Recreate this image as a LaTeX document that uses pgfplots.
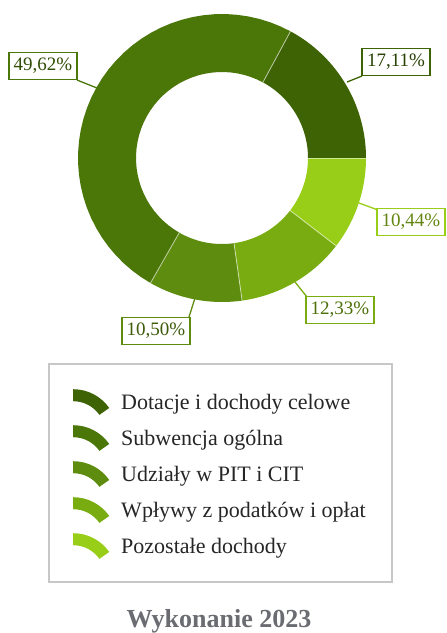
\documentclass[border=0pt]{standalone}
\usepackage{pgfplots}
\pgfplotsset{compat=1.18}
\usepackage{fontspec}
\setmainfont{Liberation Serif}
\definecolor{cA}{HTML}{3E6304}
\definecolor{cB}{HTML}{4B7608}
\definecolor{cC}{HTML}{5E8C0E}
\definecolor{cD}{HTML}{78AC10}
\definecolor{cE}{HTML}{98CD18}
\definecolor{titlegray}{HTML}{6A6C72}
% donut slice: start percent, end percent, colour
\newcommand{\slice}[3]{\addplot[fill=#3, draw=none, samples at={0,...,81}, variable=\n]
 ({222+((\n<=40)?144:86)*cos(3.6*((\n<=40)?(#1+(#2-#1)*\n/40):(#2-(#2-#1)*(\n-41)/40)))},
  {158-((\n<=40)?144:86)*sin(3.6*((\n<=40)?(#1+(#2-#1)*\n/40):(#2-(#2-#1)*(\n-41)/40)))});}
\newcommand{\sep}[1]{\addplot[forget plot, white, opacity=0.55, line width=0.9pt, samples at={86,144}, variable=\q]
 ({222+\q*cos(3.6*#1)},{158-\q*sin(3.6*#1)});}
\begin{document}
\begin{tikzpicture}
\begin{axis}[
  name=main,
  scale only axis, width=447pt, height=633pt,
  xmin=0, xmax=447, ymin=0, ymax=633, y dir=reverse,
  hide axis, clip=false,
  legend cell align=left,
  legend style={at={(axis cs:73,389)}, anchor=north west, draw=none, fill=none,
    font=\fontsize{22}{26}\selectfont, text=black!85, row sep=-8pt, inner sep=0pt,
    /tikz/every odd column/.append style={column sep=10pt},
    nodes={inner ysep=0pt}},
  legend image code/.code={%
    \fill (0pt,-31pt) ++(90:44pt) arc[start angle=90,end angle=35,radius=44pt]
      -- ++(215:12pt) arc[start angle=35,end angle=90,radius=32pt] -- cycle;},
]
% cumulative percentages: 0, 17.11, 66.73, 77.23, 89.56, 100
\slice{0}{17.11}{cA}
\addlegendentry{Dotacje i dochody celowe}
\slice{17.11}{66.73}{cB}
\addlegendentry{Subwencja ogólna}
\slice{66.73}{77.23}{cC}
\addlegendentry{Udziały w PIT i CIT}
\slice{77.23}{89.56}{cD}
\addlegendentry{Wpływy z podatków i opłat}
\slice{89.56}{100}{cE}
\addlegendentry{Pozostałe dochody}
\sep{0}\sep{17.11}\sep{66.73}\sep{77.23}\sep{89.56}
% leader lines
\draw[cB, line width=1.3pt] (axis cs:77,80) -- (axis cs:97,88);
\draw[cA, line width=1.3pt] (axis cs:362,76) -- (axis cs:347,82);
\draw[cE, line width=1.3pt] (axis cs:359,203) -- (axis cs:378,210);
\draw[cD, line width=1.3pt] (axis cs:295,282) -- (axis cs:307,297);
\draw[cC, line width=1.3pt] (axis cs:195,298) -- (axis cs:189,317);
% value labels
\tikzset{vlab/.style={draw=#1, line width=1.6pt, fill=white, text=#1!65!black,
  inner xsep=4pt, minimum height=27pt, minimum width=68pt,
  font=\fontsize{19}{19}\selectfont}}
\node[vlab=cB] at (axis cs:43,66) {49,62\%};
\node[vlab=cA] at (axis cs:396,62) {17,11\%};
\node[vlab=cE] at (axis cs:411,222) {10,44\%};
\node[vlab=cD] at (axis cs:340,310) {12,33\%};
\node[vlab=cC] at (axis cs:156,331) {10,50\%};
% legend frame
\draw[black!22, line width=1.2pt] (axis cs:49,364) rectangle (axis cs:392,582);
% title
\node[anchor=base, inner sep=0pt, font=\fontsize{26}{26}\selectfont\bfseries, text=titlegray] at (axis cs:219,627) {Wykonanie 2023};
\end{axis}
\pgfresetboundingbox
\path (main.south west) rectangle (main.north east);
\end{tikzpicture}
\end{document}
